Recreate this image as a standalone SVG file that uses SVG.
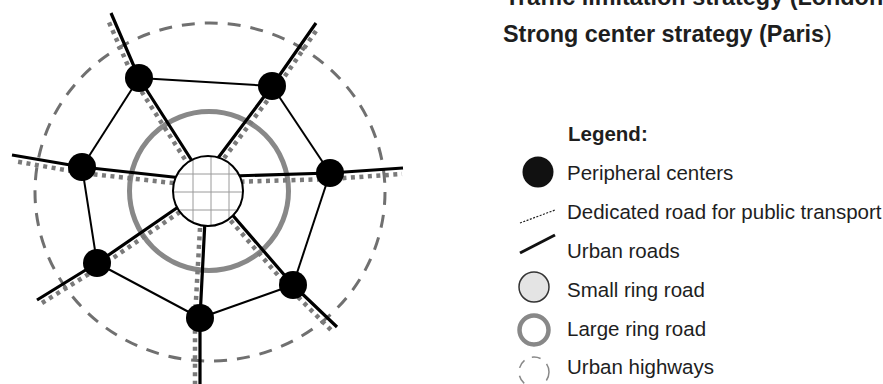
<svg xmlns="http://www.w3.org/2000/svg" width="883" height="384" viewBox="0 0 883 384">
<defs>
<style>
text{font-family:"Liberation Sans",Arial,sans-serif;fill:#1e1e1e}
.t{font-size:23.4px;font-weight:bold}
.lg{font-size:20.5px}
.b{font-weight:bold}
.road{fill:none;stroke:#000;stroke-width:3.2;stroke-linejoin:round;stroke-linecap:butt}
.ring{fill:none;stroke:#000;stroke-width:2}
.bus{fill:none;stroke:#7a7a7a;stroke-width:4.5;stroke-dasharray:4 4.5}
.node{fill:#000}
.grid{stroke:#9a9a9a;stroke-width:1}
</style>
<clipPath id="cc"><circle cx="208" cy="191" r="35"/></clipPath>
</defs>
<rect width="883" height="384" fill="#fff"/>

<g id="highways">
<ellipse cx="210" cy="192" rx="175" ry="169" fill="none" stroke="#707070" stroke-width="3" stroke-dasharray="13 10"/>
</g>
<g id="large-ring">
<circle cx="209" cy="191" r="79.5" fill="none" stroke="#888" stroke-width="5"/>
</g>

<g id="connectors">
<g id="dedicated">
<polyline class="bus" points="189.5,166.5 134.5,80.5 108,20"/>
<polyline class="bus" points="219,165 276,89 318,28"/>
<polyline class="bus" points="182,184 82,173 14,161"/>
<polyline class="bus" points="232,182 330,179 402,174"/>
<polyline class="bus" points="187,207 100,267 42,303"/>
<polyline class="bus" points="225,214 289,288 331,330"/>
<polyline class="bus" points="200,228 195,318 195,384"/>
</g>
<g id="urban">
<polyline class="road" points="194,164 139,78 111,13"/>
<polyline class="road" points="215,162 272,86 316,23"/>
<polyline class="road" points="182,178 82,167 12,155"/>
<polyline class="road" points="232,176 330,173 403,168"/>
<polyline class="road" points="184,203 97,263 37,300"/>
<polyline class="road" points="229,211 293,285 337,327"/>
<polyline class="road" points="205,220 200,318 200,384"/>
</g>
<g id="ring-links">
<line class="ring" x1="139" y1="78" x2="272" y2="86"/>
<line class="ring" x1="272" y1="86" x2="330" y2="173"/>
<line class="ring" x1="330" y1="173" x2="293" y2="285"/>
<line class="ring" x1="293" y1="285" x2="200" y2="318"/>
<line class="ring" x1="200" y1="318" x2="97" y2="263"/>
<line class="ring" x1="97" y1="263" x2="82" y2="167"/>
<line class="ring" x1="82" y1="167" x2="139" y2="78"/>
</g>
</g>

<g id="center">
<circle cx="208" cy="191" r="35" fill="#fff"/>
<g clip-path="url(#cc)">
<line class="grid" x1="193" y1="150" x2="193" y2="232"/>
<line class="grid" x1="211" y1="150" x2="211" y2="232"/>
<line class="grid" x1="229" y1="150" x2="229" y2="232"/>
<line class="grid" x1="168" y1="174" x2="248" y2="174"/>
<line class="grid" x1="168" y1="192" x2="248" y2="192"/>
<line class="grid" x1="168" y1="210" x2="248" y2="210"/>
</g>
<circle cx="208" cy="191" r="35" fill="none" stroke="#000" stroke-width="2"/>
</g>

<g id="n1"><circle class="node" cx="139" cy="78" r="14"/></g>
<g id="n2"><circle class="node" cx="272" cy="86" r="14"/></g>
<g id="n3"><circle class="node" cx="82" cy="167" r="14"/></g>
<g id="n4"><circle class="node" cx="330" cy="173" r="14"/></g>
<g id="n5"><circle class="node" cx="97" cy="263" r="14"/></g>
<g id="n6"><circle class="node" cx="293" cy="285" r="14"/></g>
<g id="n7"><circle class="node" cx="200" cy="318" r="14"/></g>

<g id="titles">
<text class="t" x="505" y="5">Traffic limitation strategy (London)</text>
<text class="t" x="503" y="41.7">Strong center strategy (Paris<tspan font-weight="normal">)</tspan></text>
</g>

<g id="legend">
<text class="lg b" x="568" y="141">Legend:</text>
<circle cx="538" cy="172" r="15.5" fill="#111"/>
<text class="lg" x="567" y="180">Peripheral centers</text>
<line x1="520" y1="223" x2="555" y2="210" stroke="#222" stroke-width="1.2" stroke-dasharray="2 1.5"/>
<text class="lg" x="567" y="219">Dedicated road for public transport</text>
<line x1="520" y1="253" x2="555" y2="235" stroke="#111" stroke-width="3"/>
<text class="lg" x="567" y="258">Urban roads</text>
<circle cx="534" cy="287" r="15" fill="#e4e4e4" stroke="#333" stroke-width="1.5"/>
<text class="lg" x="567" y="297">Small ring road</text>
<circle cx="534" cy="330" r="14.5" fill="none" stroke="#888" stroke-width="4.5"/>
<text class="lg" x="567" y="336">Large ring road</text>
<circle cx="534" cy="372" r="15" fill="none" stroke="#888" stroke-width="1.5" stroke-dasharray="9 8"/>
<text class="lg" x="567" y="374">Urban highways</text>
</g>
</svg>
